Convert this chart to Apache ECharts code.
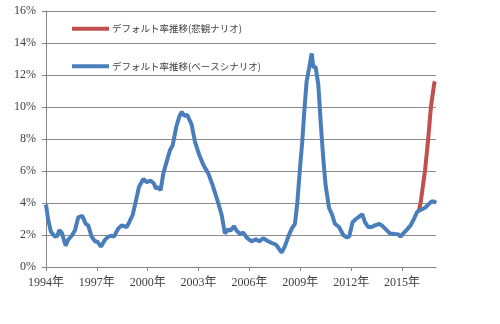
<!DOCTYPE html>
<html><head><meta charset="utf-8">
<script src="https://cdn.jsdelivr.net/npm/echarts@6/dist/echarts.min.js"></script>
<style>html,body{margin:0;padding:0;background:#fff}#c{width:500px;height:324px}</style>
</head><body><div id="c"></div>
<script>
const seriesNames = ['デフォルト率推移(悲観ナリオ)', 'デフォルト率推移(ベースシナリオ)'];
const xTickYears = [1994, 1997, 2000, 2003, 2006, 2009, 2012, 2015];
const yTicks = [0, 2, 4, 6, 8, 10, 12, 14, 16];

const baseYears = [1994.0,1994.12,1994.29,1994.53,1994.67,1994.78,1994.93,1995.16,1995.31,1995.55,1995.71,1995.90,1996.14,1996.34,1996.49,1996.69,1996.89,1997.02,1997.24,1997.48,1997.67,1997.87,1998.01,1998.26,1998.46,1998.76,1998.91,1999.11,1999.25,1999.38,1999.48,1999.74,1999.94,2000.17,2000.37,2000.49,2000.62,2000.76,2000.92,2001.12,2001.31,2001.47,2001.67,2001.86,2002.00,2002.15,2002.33,2002.59,2002.79,2003.04,2003.27,2003.57,2003.83,2004.10,2004.36,2004.55,2004.75,2004.89,2005.08,2005.24,2005.44,2005.63,2005.87,2006.13,2006.38,2006.58,2006.81,2007.05,2007.31,2007.56,2007.70,2007.90,2008.09,2008.29,2008.49,2008.68,2008.82,2008.98,2009.11,2009.23,2009.37,2009.51,2009.67,2009.76,2009.90,2010.06,2010.21,2010.35,2010.49,2010.69,2010.88,2011.04,2011.28,2011.53,2011.73,2011.88,2012.08,2012.28,2012.47,2012.65,2012.81,2013.00,2013.20,2013.40,2013.65,2013.85,2014.09,2014.28,2014.58,2014.77,2014.91,2015.07,2015.30,2015.50,2015.70,2015.89,2016.09,2016.35,2016.54,2016.74,2016.88,2017.0];
const baseValues = [3.9,3.0,2.2,1.9,1.95,2.3,2.15,1.33,1.7,2.0,2.3,3.1,3.2,2.7,2.6,1.9,1.6,1.6,1.27,1.7,1.9,1.95,1.9,2.4,2.6,2.5,2.8,3.25,3.9,4.5,5.0,5.5,5.3,5.4,5.2,4.9,5.0,4.8,5.85,6.6,7.3,7.6,8.7,9.4,9.7,9.45,9.5,8.9,7.8,7.0,6.4,5.85,5.1,4.2,3.25,2.1,2.35,2.27,2.56,2.27,2.06,2.15,1.8,1.6,1.73,1.6,1.8,1.64,1.5,1.4,1.2,0.9,1.3,1.9,2.4,2.7,4.0,6.2,7.8,9.7,11.6,12.4,13.35,12.5,12.5,11.4,8.9,6.8,5.1,3.7,3.25,2.7,2.5,2.0,1.85,1.9,2.8,3.0,3.15,3.3,2.8,2.5,2.5,2.6,2.7,2.56,2.3,2.1,2.06,2.04,1.9,2.1,2.35,2.6,3.0,3.45,3.56,3.7,3.9,4.1,4.1,4.0];

const pessYears = [2015.99,2016.09,2016.35,2016.54,2016.70,2016.90,2016.94];
const pessValues = [3.5,4.0,6.0,8.0,10.0,11.5,11.6];

const zip = (xs, ys) => xs.map((x, i) => [x, ys[i]]);
const serif = '"Liberation Serif", "Noto Sans CJK JP", serif';

const chart = echarts.init(document.getElementById('c'));
chart.setOption({
  animation: false,
  backgroundColor: '#fff',
  grid: { left: 46, right: 64, top: 11, bottom: 57, containLabel: false },
  legend: {
    orient: 'vertical', left: 72, top: 24, padding: 0, itemGap: 28,
    itemWidth: 37, itemHeight: 4, icon: 'rect',
    textStyle: { fontFamily: '"Noto Sans CJK JP", sans-serif', fontSize: 9.5, color: '#404040', padding: [0,0,0,-2] },
    data: seriesNames
  },
  xAxis: {
    type: 'value', min: 1994, max: 2017,
    splitLine: { show: false },
    axisLine: { lineStyle: { color: '#868686', width: 1 } },
    axisTick: { show: true, length: 4, lineStyle: { color: '#868686' }, customValues: xTickYears },
    axisLabel: { customValues: xTickYears, formatter: v => v + '年', fontFamily: serif, fontSize: 12, color: '#404040', margin: 10 }
  },
  yAxis: {
    type: 'value', min: 0, max: 16, interval: 2,
    axisLine: { show: true, lineStyle: { color: '#868686', width: 1 } },
    axisTick: { show: true, length: 4, lineStyle: { color: '#868686' } },
    splitLine: { lineStyle: { color: '#8c8c8c', width: 1 } },
    axisLabel: { formatter: '{value}%', fontFamily: serif, fontSize: 12, color: '#404040', margin: 10 }
  },
  series: [
    { name: seriesNames[0], type: 'line', data: zip(pessYears, pessValues), showSymbol: false, symbol: 'none',
      lineStyle: { color: '#C0504D', width: 4 }, itemStyle: { color: '#C0504D' } },
    { name: seriesNames[1], type: 'line', data: zip(baseYears, baseValues), showSymbol: false, symbol: 'none',
      lineStyle: { color: '#4A7EBB', width: 4 }, itemStyle: { color: '#4A7EBB' } }
  ]
});
</script></body></html>
